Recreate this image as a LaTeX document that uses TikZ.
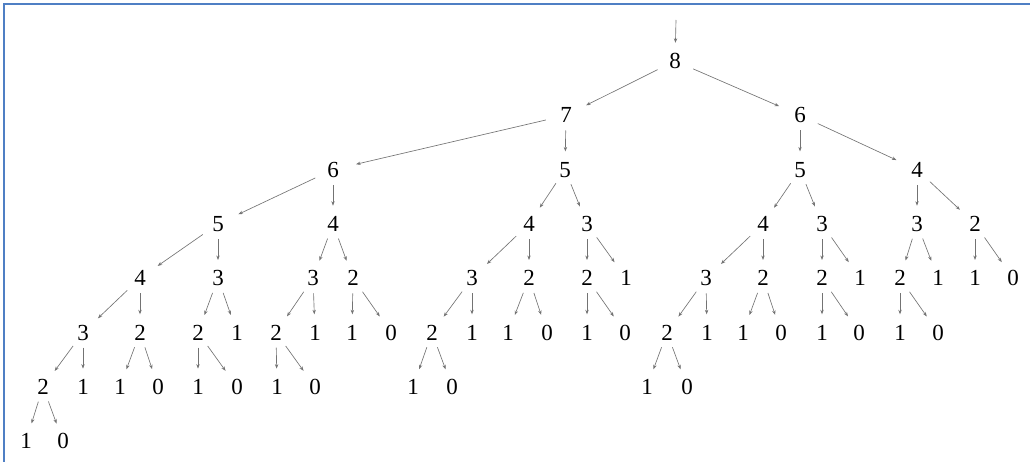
\documentclass[tikz,border=0pt]{standalone}
\usepackage{fontspec}
\setmainfont{Liberation Serif}
\usetikzlibrary{arrows.meta, shapes.geometric}
\definecolor{framecol}{HTML}{4F7FC4}
\tikzset{
    num/.style={ellipse, minimum width=42pt, minimum height=30pt, inner sep=0pt,
        font=\fontsize{23}{27}\selectfont},
    edge/.style={draw=black!55, line width=0.65pt, shorten >=3pt,
        -{Stealth[length=4.5pt, width=3.4pt]}},
    common settings/.style={x=1pt, y=-1pt}
}
\begin{document}
\begin{tikzpicture}[common settings]

    % Configuration
    \def\rowtop{61}     % y of the root row
    \def\rowgap{54.3}   % distance between rows

    \useasboundingbox (0,0) rectangle (1030,462);

    % 1. Frame (top and left edge only)
    \draw[framecol, line width=1.6pt] (4,462) -- (4,4) -- (1030,4);

    % 2. Incoming arrow
    \coordinate (top) at (676,20);

    % 3. Nodes, each one drawn with the arrow from its parent
    % parent / name / x / row / value
    \foreach \p/\n/\x/\r/\v in {
        top/n/675/0/8,
        n/nL/566/1/7, n/nR/800/1/6,
        nL/nLL/333/2/6, nL/nLR/565/2/5, nR/nRL/800/2/5, nR/nRR/917/2/4,
        nLL/nLLL/218/3/5, nLL/nLLR/333/3/4, nLR/nLRL/529/3/4, nLR/nLRR/587/3/3,
        nRL/nRLL/763/3/4, nRL/nRLR/822/3/3, nRR/nRRL/917/3/3, nRR/nRRR/975/3/2,
        nLLL/nLLLL/140/4/4, nLLL/nLLLR/218/4/3, nLLR/nLLRL/313/4/3, nLLR/nLLRR/353/4/2,
        nLRL/nLRLL/472/4/3, nLRL/nLRLR/529/4/2, nLRR/nLRRL/587/4/2, nLRR/nLRRR/626/4/1,
        nRLL/nRLLL/706/4/3, nRLL/nRLLR/763/4/2, nRLR/nRLRL/822/4/2, nRLR/nRLRR/860/4/1,
        nRRL/nRRLL/900/4/2, nRRL/nRRLR/938/4/1, nRRR/nRRRL/975/4/1, nRRR/nRRRR/1013/4/0,
        nLLLL/nLLLLL/83/5/3, nLLLL/nLLLLR/140/5/2, nLLLR/nLLLRL/198/5/2, nLLLR/nLLLRR/237/5/1,
        nLLRL/nLLRLL/276/5/2, nLLRL/nLLRLR/315/5/1, nLLRR/nLLRRL/352/5/1, nLLRR/nLLRRR/391/5/0,
        nLRLL/nLRLLL/432/5/2, nLRLL/nLRLLR/472/5/1, nLRLR/nLRLRL/508/5/1, nLRLR/nLRLRR/547/5/0,
        nLRRL/nLRRLL/587/5/1, nLRRL/nLRRLR/625/5/0, nRLLL/nRLLLL/667/5/2, nRLLL/nRLLLR/707/5/1,
        nRLLR/nRLLRL/743/5/1, nRLLR/nRLLRR/781/5/0, nRLRL/nRLRLL/822/5/1, nRLRL/nRLRLR/859/5/0,
        nRRLL/nRRLLL/900/5/1, nRRLL/nRRLLR/938/5/0,
        nLLLLL/nLLLLLL/43/6/2, nLLLLL/nLLLLLR/83/6/1, nLLLLR/nLLLLRL/120/6/1, nLLLLR/nLLLLRR/158/6/0,
        nLLLRL/nLLLRLL/198/6/1, nLLLRL/nLLLRLR/237/6/0, nLLRLL/nLLRLLL/277/6/1, nLLRLL/nLLRLLR/315/6/0,
        nLRLLL/nLRLLLL/413/6/1, nLRLLL/nLRLLLR/452/6/0, nRLLLL/nRLLLLL/647/6/1, nRLLLL/nRLLLLR/687/6/0,
        nLLLLLL/nLLLLLLL/26/7/1, nLLLLLL/nLLLLLLR/63/7/0} {
        \pgfmathsetmacro{\y}{\rowtop + \r * \rowgap}
        \node[num] (\n) at (\x, \y) {\v};
        \draw[edge] (\p) -- (\n);
    }

\end{tikzpicture}
\end{document}
